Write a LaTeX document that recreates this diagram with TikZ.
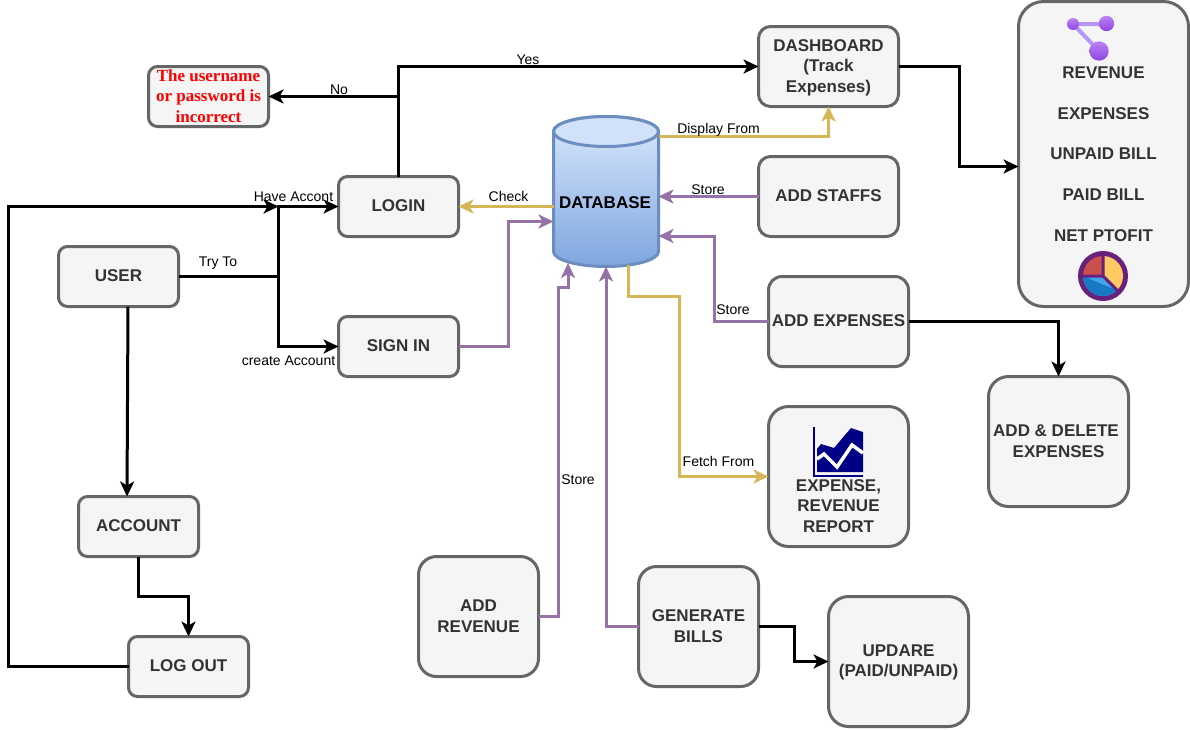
\documentclass[tikz,border=0pt]{standalone}
\usepackage{fontspec}
\setmainfont{Liberation Sans}
\newfontfamily\serifbold{Liberation Serif}
\usetikzlibrary{arrows.meta}
\definecolor{boxfill}{HTML}{F5F5F5}
\definecolor{boxline}{HTML}{666666}
\definecolor{boxtextc}{HTML}{333333}
\definecolor{goldc}{HTML}{D6B656}
\definecolor{purplec}{HTML}{9673A6}
\definecolor{dbtop}{HTML}{DAE8FC}
\definecolor{dbbot}{HTML}{7EA6E0}
\definecolor{dbline}{HTML}{6C8EBF}
\tikzset{
  boxtext/.style={align=center,text=boxtextc,inner sep=0pt,yshift=0.5pt,font=\bfseries\fontsize{17}{20.6}\selectfont},
  bx/.style n args={3}{draw=boxline,fill=boxfill,line width=3pt,outer sep=0pt,inner sep=0pt,
     minimum width=#1 pt,minimum height=#2 pt,rounded corners=#3 pt},
  sbox/.style={bx={120}{60}{9}},
  conn/.style={line width=3pt,-{Stealth[length=15pt,width=14pt,inset=4pt]}},
  blk/.style={conn,draw=black},
  gld/.style={conn,draw=goldc},
  prp/.style={conn,draw=purplec},
  lbl/.style={font=\fontsize{14}{16}\selectfont,inner sep=0pt,text=black},
}
\begin{document}
\begin{tikzpicture}[x=1pt,y=-1pt]
\useasboundingbox (0,0) rectangle (1190,729);
\fill[white] (0,0) rectangle (1190,729);
% waypoints
\coordinate (j1) at (278.5,206.5);
\coordinate (j2) at (398.5,96.5);
\coordinate (c1) at (508.5,221.5);
\coordinate (c2) at (828.5,136.5);
\coordinate (c3) at (714,236);
\coordinate (c4) at (628.5,296);
\coordinate (c5) at (679,296);
\coordinate (c6) at (558,287);
\coordinate (c7) at (568,287);
\coordinate (c8) at (568,263);
\coordinate (c9) at (794,626.5);
\coordinate (c10) at (794,661.5);
\coordinate (c11) at (959,66.5);
\coordinate (c12) at (959,166.5);
\coordinate (c13) at (138.5,596.5);
\coordinate (c14) at (188.5,596.5);
\coordinate (c15) at (8.5,666.5);
\coordinate (c16) at (8.5,206.5);
\coordinate (c17) at (1058.5,321.5);
\coordinate (c18) at (398.5,66.5);
% database cylinder
\path[top color=dbtop,bottom color=dbbot,draw=dbline,line width=3pt]
  (553.5,131.5) -- (553.5,251.5) .. controls (553.5,259.8) and (577,266.5) .. (606,266.5)
  .. controls (635,266.5) and (658.5,259.8) .. (658.5,251.5) -- (658.5,131.5)
  .. controls (658.5,123.2) and (635,116.5) .. (606,116.5)
  .. controls (577,116.5) and (553.5,123.2) .. (553.5,131.5) -- cycle;
\path[fill=dbtop!90!dbbot,draw=dbline,line width=3pt] (606,131.5) ellipse [x radius=52.5,y radius=15];
\node[minimum width=105pt,minimum height=150pt,inner sep=0pt,outer sep=0pt] (db) at (606,191.5) {};
\node[font=\bfseries\fontsize{17}{20}\selectfont,text=black,inner sep=0pt] (dbtext) at (605,203) {DATABASE};
% boxes
\node[sbox,label={[boxtext]center:LOGIN}] (login) at (398.5,206.5) {};
\node[sbox,label={[boxtext]center:SIGN IN}] (signin) at (398.5,346.5) {};
\node[sbox,label={[boxtext]center:USER}] (user) at (118.5,276.5) {};
\node[sbox,label={[boxtext]center:ACCOUNT}] (account) at (138.5,526.5) {};
\node[sbox,label={[boxtext]center:LOG OUT}] (logout) at (188.5,666.5) {};
\node[sbox,label={[boxtext,text=red,font=\serifbold\bfseries\fontsize{17}{20.2}\selectfont]center:The username\\or password is\\incorrect}] (err) at (208.5,96.5) {};
\node[bx={140}{80}{12},label={[boxtext,yshift=-1.5pt]center:DASHBOARD\\(Track\\Expenses)}] (dash) at (828.5,66.5) {};
\node[bx={140}{80}{12},label={[boxtext]center:ADD STAFFS}] (staffs) at (828.5,196.5) {};
\node[bx={140}{90}{13.5},label={[boxtext]center:ADD EXPENSES}] (addexp) at (838.5,321.5) {};
\node[bx={140}{130}{20},label={[boxtext]center:ADD \& DELETE\hspace*{5pt}\\EXPENSES}] (adddel) at (1058.5,441.5) {};
\node[bx={140}{140}{20}] (report) at (838.5,476.5) {};
\node[boxtext] (reporttext) at (838.5,506.5) {EXPENSE,\\REVENUE\\REPORT};
\node[bx={120}{120}{18},label={[boxtext]center:ADD\\REVENUE}] (rev) at (478.5,616.5) {};
\node[bx={120}{120}{18},label={[boxtext]center:GENERATE\\BILLS}] (bills) at (698.5,626.5) {};
\node[bx={140}{130}{20},label={[boxtext,yshift=-1.5pt]center:UPDARE\\(PAID/UNPAID)}] (upd) at (898.5,661.5) {};
\node[bx={170}{305}{25},label={[boxtext,yshift=-0.5pt,font=\bfseries\fontsize{17}{40.7}\selectfont]center:REVENUE\\EXPENSES\\UNPAID BILL\\PAID BILL\\NET PTOFIT}] (big) at (1103.5,154) {};
% connectors
\draw[blk] (user.east) -- (j1 |- user.east) -- (j1) -- (login.west);
\draw[blk] (j1 |- user.east) |- (signin.west);
\draw[blk] (login.north) -- (c18) -- (dash.west |- c18);
\draw[blk] (j2) -- (err.east);
\draw[gld] (db.west |- login.east) -- (login.east);
\draw[prp] (signin.east) -| (c1) -- (db.west |- c1);
\draw[gld] (db.east |- c2) -- (c2) -- (dash.south);
\draw[prp] (staffs.west) -- (db.east |- staffs.west);
\draw[prp] (addexp.west) -| (c3) -- (db.east |- c3);
\draw[blk] (addexp.east) -- (c17) -- (adddel.north);
\draw[gld] ([yshift=2pt]c4 |- db.south) -- (c4) -- (c5) |- (report.west);
\draw[prp] (rev.east) -| (c6) -- (c7) -- (c8);
\draw[prp] (bills.west) -| (db.south);
\draw[blk] (bills.east) -- (c9) -- (c10) -- (upd.west);
\draw[blk] (dash.east) -- (c11) -- (c12) -- (big.west |- c12);
\draw[blk] ([xshift=9.5pt]user.south) -- ([xshift=-11.5pt]account.north);
\draw[blk] (account.south) -- (c13) -- (c14) -- (logout.north);
\draw[blk] (logout.west) -- (c15) -- (c16) -- (j1);
% connector labels
\node[lbl] (t1) at (218,263.5) {Try To};
\node[lbl] (t2) at (293.5,196.5) {Have Accont};
\node[lbl] (t3) at (288.5,361) {create Account};
\node[lbl] (t4) at (528,59.5) {Yes};
\node[lbl] (t5) at (339,89.5) {No};
\node[lbl] (t6) at (508.5,196.5) {Check};
\node[lbl] (t7) at (718.5,130) {Display From};
\node[lbl] (t8) at (708,190) {Store};
\node[lbl] (t9) at (733,310) {Store};
\node[lbl] (t10) at (718.5,461) {Fetch From};
\node[lbl] (t11) at (578,480) {Store};
% network icon
\draw[line width=4pt,draw={rgb,255:red,183;green,150;blue,249}] (1073,24) -- (1106,24) (1073,24) -- (1099,51);
\shade[top color={rgb,255:red,190;green,130;blue,245},bottom color={rgb,255:red,140;green,70;blue,225}] (1073,24) circle [radius=6];
\shade[top color={rgb,255:red,190;green,130;blue,245},bottom color={rgb,255:red,140;green,70;blue,225}] (1106.5,23.5) circle [radius=7.7];
\shade[top color={rgb,255:red,190;green,130;blue,245},bottom color={rgb,255:red,140;green,70;blue,225}] (1099,51) circle [radius=9.7];
% pie icon
\begin{scope}[shift={(1103,276)},x=1pt,y=1pt]
\fill[color={rgb,255:red,104;green,33;blue,122}] (0,0) circle [radius=25];
\fill[color={rgb,255:red,201;green,80;blue,79}] (0,0) -- (90:20) arc [start angle=90,end angle=180,radius=20] -- cycle;
\fill[color={rgb,255:red,255;green,201;blue,100}] (0,0) -- (90:20) arc [start angle=90,end angle=-42,radius=20] -- cycle;
\fill[color={rgb,255:red,65;green,165;blue,238}] (0,0) -- (180:20) arc [start angle=180,end angle=318,radius=20] -- cycle;
\fill[color={rgb,255:red,24;green,120;blue,195}] (-20,0) arc [start angle=180,end angle=318,radius=20] .. controls (8,-13) and (-10,-4) .. (-20,0) -- cycle;
\draw[line width=3pt,color={rgb,255:red,104;green,33;blue,122},line cap=round] (0,20) -- (0,0) -- (-20,0) (0,0) -- (14,-14);
\end{scope}
% chart icon
\fill[color={rgb,255:red,0;green,0;blue,135}] (817,449) -- (821,444) -- (834,448) -- (851,428) -- (863,432) -- (863,472) -- (817,472) -- cycle;
\draw[white,line width=3.5pt] (817,459) -- (824,454) -- (837,467) -- (852,445) -- (863,453);
\draw[color={rgb,255:red,0;green,0;blue,135},line width=1.5pt] (814,427) -- (814,476) -- (863,476);
\end{tikzpicture}
\end{document}
